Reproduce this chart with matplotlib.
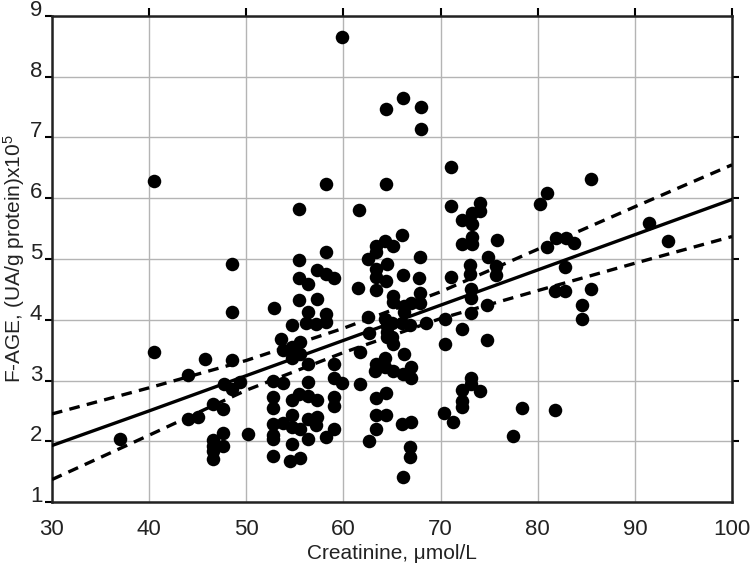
import matplotlib.pyplot as plt

# ==========================
# Data
# ==========================
creatinine = [
    37.0, 40.5, 40.5, 44.0, 44.0, 45.0, 45.75, 46.6, 46.6, 46.6, 46.6, 46.6,
    47.6, 47.7, 47.6, 47.6, 48.56, 48.56, 48.56, 48.5, 49.4, 50.2,
    52.85, 52.8, 53.75, 52.8, 52.8, 52.8, 52.8, 52.8, 52.8, 53.6, 53.8, 53.8,
    54.7, 54.7, 54.7, 54.7, 54.7, 54.7, 54.7, 54.5,
    55.4, 55.4, 55.4, 55.4, 55.5, 55.5, 55.4, 55.5, 55.5,
    56.2, 56.4, 56.4, 56.4, 56.4, 56.4, 56.4, 56.4,
    57.2, 57.3, 57.3, 57.3, 57.3, 57.2,
    58.2, 58.2, 58.2, 58.2, 58.2, 58.2,
    59.0, 59.0, 59.0, 59.0, 59.0, 59.0, 59.9, 59.9,
    61.5, 61.6, 61.7, 61.7, 62.5, 62.5, 62.6, 62.6,
    63.4, 63.4, 63.4, 63.4, 63.4, 63.4, 63.25, 63.4, 63.4, 63.4,
    64.3, 64.45, 64.35, 64.3, 64.45, 64.45, 64.45, 64.3, 64.3, 64.4, 64.4,
    64.35, 64.35,
    65.1, 65.1, 65.1, 65.0, 65.0, 65.1, 65.1,
    66.1, 66.0, 66.1, 66.2, 66.2, 66.0, 66.2, 66.1, 66.0, 66.1,
    66.9, 67.0, 67.0, 67.0, 67.0, 66.9, 66.9,
    67.95, 67.95, 67.9, 67.8, 67.9, 67.9, 68.5,
    70.45, 70.45, 70.35, 71.1, 71.1, 71.1, 71.3,
    72.2, 72.2, 72.2, 72.2, 72.2, 72.2,
    73.2, 73.2, 73.2, 73.2, 73.0, 73.0, 73.1, 73.1, 73.1, 73.1, 73.1,
    74.1, 74.1, 74.05, 74.85, 74.75, 74.8, 75.8, 75.7, 75.7,
    77.5, 78.35, 80.2, 81.0, 81.0, 81.8, 81.8, 81.9, 82.9, 82.8, 82.8, 83.7,
    84.6, 84.6, 85.45, 85.45, 91.5, 93.4,
]
f_age = [
    2.04, 6.28, 3.47, 3.09, 2.37, 2.40, 3.35, 2.61, 2.02, 1.92, 1.84, 1.71,
    2.53, 2.94, 2.14, 1.92, 4.91, 4.13, 3.34, 2.86, 2.97, 2.12,
    4.20, 2.99, 2.96, 2.73, 2.54, 2.28, 2.10, 2.03, 1.76, 3.68, 3.50, 2.30,
    3.91, 3.55, 3.37, 2.68, 2.43, 2.24, 1.95, 1.68,
    5.82, 4.98, 4.69, 4.33, 3.64, 3.43, 2.78, 2.21, 1.72,
    3.95, 4.59, 4.12, 3.28, 2.98, 2.75, 2.36, 2.03,
    3.93, 4.82, 4.34, 2.68, 2.40, 2.27,
    6.23, 5.12, 4.75, 4.10, 3.97, 2.07,
    4.69, 3.28, 3.04, 2.73, 2.58, 2.21, 8.66, 2.96,
    4.52, 5.80, 3.47, 2.94, 5.00, 4.04, 3.78, 2.01,
    5.22, 5.12, 4.83, 4.71, 4.49, 3.28, 3.16, 2.72, 2.43, 2.20,
    5.29, 4.92, 4.64, 4.02, 3.80, 3.72, 3.90, 3.37, 3.22, 2.80, 2.43,
    7.47, 6.23,
    5.22, 4.39, 4.30, 3.94, 3.72, 3.60, 3.15,
    7.65, 5.40, 4.74, 4.23, 4.13, 3.94, 3.43, 3.11, 2.28, 1.41,
    3.91, 4.27, 3.23, 3.04, 2.32, 1.90, 1.74,
    7.51, 7.14, 5.04, 4.68, 4.44, 4.27, 3.95,
    4.02, 3.60, 2.47, 6.52, 5.87, 4.71, 2.31,
    5.64, 5.24, 3.84, 2.85, 2.67, 2.56,
    5.76, 5.58, 5.37, 5.25, 4.90, 4.75, 4.50, 4.35, 4.11, 3.04, 2.95,
    5.93, 5.79, 2.82, 5.03, 4.24, 3.66, 5.31, 4.88, 4.73,
    2.09, 2.54, 5.91, 6.08, 5.19, 4.48, 2.51, 5.34, 5.34, 4.87, 4.48, 5.26,
    4.24, 4.02, 6.31, 4.50, 5.60, 5.29,
]

# regression line and its confidence band
fit_x = [30, 40, 50, 60, 70, 80, 90, 100]
fit_y = [1.93, 2.50, 3.08, 3.66, 4.24, 4.82, 5.40, 5.98]
ci_upper = [2.45, 2.88, 3.33, 3.86, 4.46, 5.16, 5.86, 6.55]
ci_lower = [1.37, 2.10, 2.84, 3.46, 4.02, 4.48, 4.93, 5.37]

x_ticks = [30, 40, 50, 60, 70, 80, 90, 100]
y_ticks = [1, 2, 3, 4, 5, 6, 7, 8, 9]

# ==========================
# Plot
# ==========================
plt.rcParams['font.family'] = ['Liberation Sans', 'DejaVu Sans']
plt.rcParams['mathtext.default'] = 'regular'

fig = plt.figure(figsize=(7.5, 5.63), dpi=100)
ax = fig.add_axes([0.0693, 0.1083, 0.9067, 0.8633])

ax.scatter(creatinine, f_age, s=95, color='black', zorder=3, linewidths=0)
ax.plot(fit_x, fit_y, color='black', lw=2.4, zorder=4)
ax.plot(fit_x, ci_upper, color='black', lw=2.4, ls=(0, (3.2, 2.2)), zorder=4)
ax.plot(fit_x, ci_lower, color='black', lw=2.4, ls=(0, (3.2, 2.2)), zorder=4)

ax.set_xlim(30, 100)
ax.set_ylim(1, 9)
ax.set_xticks(x_ticks)
ax.set_yticks(y_ticks)
ax.grid(True, color='#b4b4b4', lw=1.0)
ax.set_axisbelow(True)

for side in ax.spines.values():
    side.set_linewidth(1.8)
    side.set_color('#222222')

# tick marks on top/right, labels on bottom/left
ax.tick_params(axis='x', bottom=False, top=True, direction='out', length=6,
               width=1.5, labelsize=16, pad=6, labelcolor='#222222')
ax.tick_params(axis='y', left=True, right=True, direction='out', length=5,
               width=1.5, labelsize=16, pad=2, labelcolor='#222222')
ax.xaxis.get_major_ticks()[0].tick2line.set_visible(False)
ax.yaxis.get_major_ticks()[0].tick2line.set_visible(False)
ax.yaxis.get_major_ticks()[-1].tick2line.set_visible(False)
# labels sit just above their grid line
for lab in ax.get_yticklabels():
    lab.set_va('baseline')

ax.set_xlabel("Creatinine, μmol/L", fontsize=15, color='#222222', labelpad=3)
ax.set_ylabel("F-AGE, (UA/g protein)x10$^5$", fontsize=15, color='#222222', labelpad=2)

fig.savefig("out.png", dpi=100)
